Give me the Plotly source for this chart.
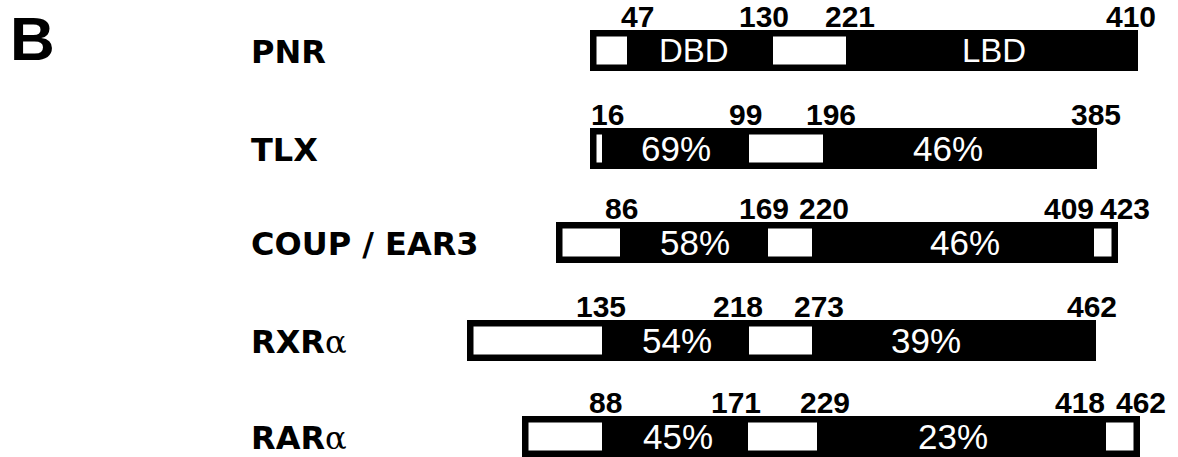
import plotly.graph_objects as go

# --- data -------------------------------------------------------------
proteins = ["PNR", "TLX", "COUP / EAR3", "RXRα", "RARα"]

# residue numbers marking the domain boundaries of each receptor
residues = [
    [47, 130, 221, 410],
    [16, 99, 196, 385],
    [86, 169, 220, 409, 423],
    [135, 218, 273, 462],
    [88, 171, 229, 418, 462],
]

# amino-acid identity with PNR in the DBD and the LBD
dbd_identity = [None, 69, 58, 54, 45]
lbd_identity = [None, 46, 46, 39, 23]
pnr_domain_names = ["DBD", "LBD"]

# --- schematic layout (not to scale) ----------------------------------
# start, DBD start, DBD end, LBD start, LBD end, end
segments = [
    [590, 627, 773, 846, 1138, 1138],
    [590, 602, 749, 823, 1097, 1097],
    [556, 620, 768, 812, 1094, 1118],
    [467, 602, 749, 812, 1096, 1096],
    [522, 602, 748, 817, 1106, 1140],
]
number_x = [
    [637, 764, 850, 1131],
    [607, 745, 831, 1096],
    [621, 764, 824, 1069, 1125],
    [601, 738, 819, 1092],
    [605, 736, 825, 1080, 1141],
]
dbd_text_x = [694, 676, 695, 677, 678]
lbd_text_x = [994, 948, 965, 926, 953]
row_top = [30, 128, 222, 320, 416]
BAR_H = 41
EDGE = 6.5

W, H = 1178, 457
fig = go.Figure()
shapes = []
annotations = []

BOLD = "Liberation Sans"

for i, name in enumerate(proteins):
    x0, d0, d1, l0, l1, x1 = segments[i]
    top = row_top[i]
    bot = top + BAR_H
    mid = (top + bot) / 2

    # black backbone of the receptor
    shapes.append(dict(type="rect", x0=x0, x1=x1, y0=top, y1=bot,
                       fillcolor="black", line=dict(width=0), layer="above"))
    # open (white) boxes for the N-terminus, hinge and C-terminal extension
    boxes = []
    if d0 - x0 > EDGE:
        boxes.append((x0 + EDGE, d0))
    boxes.append((d1, l0))
    if x1 - l1 > EDGE:
        boxes.append((l1, x1 - EDGE))
    for a, b in boxes:
        shapes.append(dict(type="rect", x0=a, x1=b, y0=top + EDGE, y1=bot - EDGE,
                           fillcolor="white", line=dict(width=0), layer="above"))

    # receptor name
    label = name
    if name.endswith("α"):
        label = name[:-1] + "<span style='font-family:DejaVu Serif;font-weight:normal'>α</span>"
    annotations.append(dict(x=249, y=mid + 1, text="<b>" + label + "</b>",
                            xanchor="left", yanchor="middle", showarrow=False,
                            font=dict(family="DejaVu Sans", size=32, color="black")))

    # residue numbers above the bar
    for r, nx in zip(residues[i], number_x[i]):
        annotations.append(dict(x=nx, y=top + 5, text="<b>%d</b>" % r,
                                xanchor="center", yanchor="bottom", showarrow=False,
                                font=dict(family=BOLD, size=30, color="black")))

    # text inside the DBD and LBD
    if dbd_identity[i] is None:
        t1, t2 = pnr_domain_names
        fs = 33
    else:
        t1, t2 = "%d%%" % dbd_identity[i], "%d%%" % lbd_identity[i]
        fs = 35
    for t, tx in ((t1, dbd_text_x[i]), (t2, lbd_text_x[i])):
        annotations.append(dict(x=tx, y=mid, text=t,
                                xanchor="center", yanchor="middle", showarrow=False,
                                font=dict(family="Liberation Sans", size=fs, color="white")))

# panel letter
annotations.append(dict(x=8, y=38, text="<b>B</b>", xanchor="left", yanchor="middle",
                        showarrow=False,
                        font=dict(family=BOLD, size=62, color="black")))

fig.update_layout(
    width=W, height=H,
    margin=dict(l=0, r=0, t=0, b=0),
    paper_bgcolor="white", plot_bgcolor="white",
    xaxis=dict(range=[0, W], visible=False, fixedrange=True),
    yaxis=dict(range=[H, 0], visible=False, fixedrange=True),
    shapes=shapes, annotations=annotations, showlegend=False,
)

fig.write_html("out.html")
